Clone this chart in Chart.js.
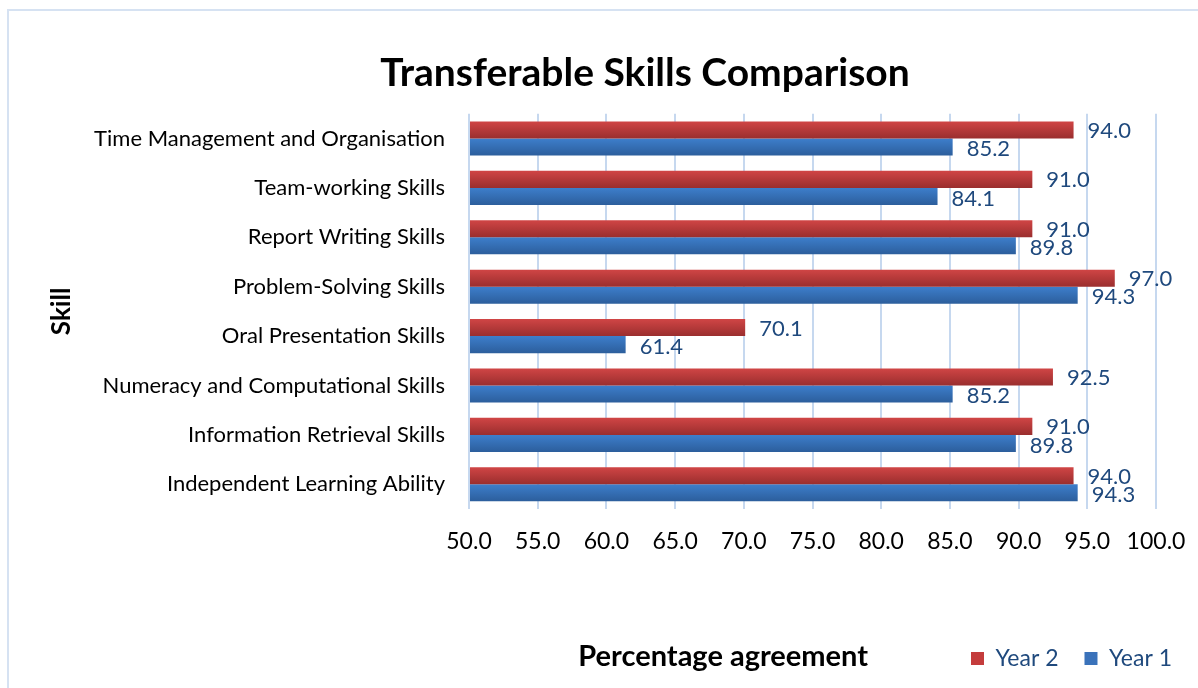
<!DOCTYPE html>
<html>
<head>
<meta charset="utf-8">
<title>Transferable Skills Comparison</title>
<script src="https://cdn.jsdelivr.net/npm/chart.js@4/dist/chart.umd.min.js"></script>
<style>
  html, body { margin: 0; padding: 0; background: #fff; }
  #wrap { width: 1198px; height: 688px; position: relative; }
</style>
</head>
<body>
<div id="wrap"><canvas id="chart"></canvas></div>
<script>
const skills = [
    'Time Management and Organisation',
    'Team-working Skills',
    'Report Writing Skills',
    'Problem-Solving Skills',
    'Oral Presentation Skills',
    'Numeracy and Computational Skills',
    'Information Retrieval Skills',
    'Independent Learning Ability'
]
const year2 = [94.0, 91.0, 91.0, 97.0, 70.1, 92.5, 91.0, 94.0]
const year1 = [85.2, 84.1, 89.8, 94.3, 61.4, 85.2, 89.8, 94.3]
const seriesNames = ['Year 2', 'Year 1']
const axisMin = 50
const axisMax = 100
const axisStep = 5

const FONT = 'Lato'
const textBlue = '#1F497D'
const gridBlue = '#C6D8EF'
const catPct = 0.69

// vertical shading like the office bars, computed from the category scale
function barGradient(light, dark) {
    return function (context) {
        const chart = context.chart
        const y = chart.scales.y
        if (!y || context.dataIndex === undefined) return light
        const center = y.getPixelForValue(context.dataIndex)
        const half = (y.height / skills.length) * catPct / 2
        const top = context.datasetIndex === 0 ? center - half : center
        if (!isFinite(top) || !isFinite(half) || half <= 0) return light
        const g = chart.ctx.createLinearGradient(0, top, 0, top + half)
        g.addColorStop(0, light)
        g.addColorStop(1, dark)
        return g
    }
}

const frame = {
    id: 'frame',
    beforeDraw(chart) {
        const ctx = chart.ctx
        ctx.save()
        ctx.strokeStyle = '#D6E2F2'
        ctx.lineWidth = 2
        ctx.strokeRect(8, 10, 1274, 800)
        ctx.restore()
    },
    afterLayout(chart) {
        // title is centred on the (cropped) outer frame, not on the canvas
        if (chart.titleBlock) {
            chart.titleBlock.left = 8
            chart.titleBlock.right = 8 + 1274
        }
    }
}

const valueLabels = {
    id: 'valueLabels',
    afterDatasetsDraw(chart) {
        const ctx = chart.ctx
        ctx.save()
        ctx.font = '22px ' + FONT
        ctx.fillStyle = textBlue
        ctx.textBaseline = 'middle'
        chart.data.datasets.forEach((ds, i) => {
            chart.getDatasetMeta(i).data.forEach((bar, j) => {
                ctx.fillText(ds.data[j].toFixed(1), bar.x + 14, bar.y + (i === 1 ? 2 : 1))
            })
        })
        ctx.restore()
    }
}

const xTitle = {
    id: 'xTitle',
    afterDraw(chart) {
        const a = chart.chartArea
        const ctx = chart.ctx
        ctx.save()
        ctx.font = 'bold 29px ' + FONT
        ctx.fillStyle = '#000'
        ctx.textAlign = 'center'
        ctx.textBaseline = 'middle'
        ctx.fillText('Percentage agreement', a.left + (a.right - a.left) * 0.37, 657)
        ctx.restore()
    }
}

const solid = ['#C43C3C', '#3A72BA']

new Chart(document.getElementById('chart'), {
    type: 'bar',
    data: {
        labels: skills,
        datasets: [
            {
                label: seriesNames[0],
                data: year2,
                backgroundColor: barGradient('#D04545', '#9A2E2E'),
                base: axisMin,
                categoryPercentage: catPct,
                barPercentage: 1
            },
            {
                label: seriesNames[1],
                data: year1,
                backgroundColor: barGradient('#3D7ECB', '#2C5E9C'),
                base: axisMin,
                categoryPercentage: catPct,
                barPercentage: 1
            }
        ]
    },
    options: {
        indexAxis: 'y',
        responsive: true,
        maintainAspectRatio: false,
        animation: false,
        layout: { padding: { left: 44, right: 0, top: 10, bottom: 8 } },
        plugins: {
            title: {
                display: true,
                text: 'Transferable Skills Comparison',
                color: '#000',
                font: { family: FONT, size: 39, weight: 'bold' },
                padding: { top: 40, bottom: 17 }
            },
            legend: {
                position: 'bottom',
                align: 'end',
                labels: {
                    color: textBlue,
                    font: { family: FONT, size: 23 },
                    boxWidth: 13,
                    boxHeight: 13,
                    padding: 26,
                    generateLabels(chart) {
                        const items = Chart.defaults.plugins.legend.labels.generateLabels(chart)
                        items.forEach((it, i) => { it.fillStyle = solid[i]; it.strokeStyle = solid[i]; it.lineWidth = 0 })
                        return items
                    }
                }
            },
            tooltip: { enabled: false }
        },
        scales: {
            x: {
                min: axisMin,
                max: axisMax,
                ticks: {
                    stepSize: axisStep,
                    color: '#000',
                    font: { family: FONT, size: 23 },
                    padding: 19,
                    callback: v => Number(v).toFixed(1)
                },
                grid: { color: gridBlue, lineWidth: 2, drawTicks: false },
                border: { display: false },
                afterFit(scale) {
                    scale.height = 112
                    scale.paddingRight = 42
                }
            },
            y: {
                ticks: {
                    color: '#000',
                    font: { family: FONT, size: 22 },
                    padding: 24
                },
                grid: { display: false, drawTicks: false },
                border: { display: false },
                title: {
                    display: true,
                    text: 'Skill',
                    color: '#000',
                    font: { family: FONT, size: 26, weight: 'bold' },
                    padding: { top: 2, bottom: 0 }
                },
                afterFit(scale) {
                    scale.width = 425
                }
            }
        }
    },
    plugins: [frame, valueLabels, xTitle]
})
</script>
</body>
</html>
